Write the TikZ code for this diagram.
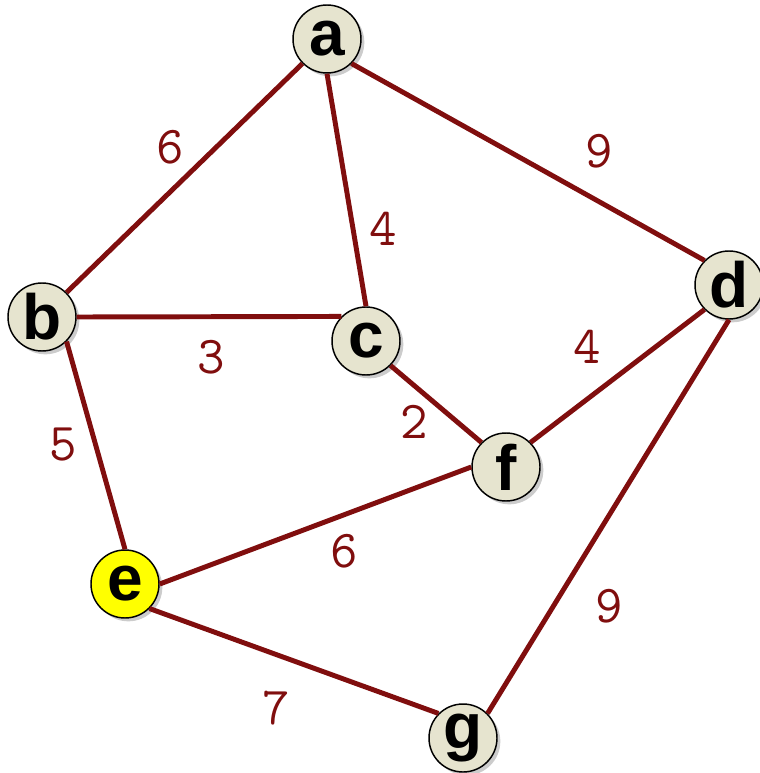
\documentclass[tikz,border=0pt]{standalone}
\usepackage{fontspec}
\usepackage{tikz}
\usetikzlibrary{shadows}
\newfontfamily\vtxfont{Liberation Sans}
\definecolor{edgered}{HTML}{800E0E}
\definecolor{vtxfill}{HTML}{E6E4CF}
\definecolor{vtxyellow}{HTML}{FFFF00}

\begin{document}
\begin{tikzpicture}[x=0.75pt, y=-0.75pt,
    vtx/.style={circle, draw=black, line width=1.1pt, fill=vtxfill,
        minimum size=51pt, inner sep=0pt,
        drop shadow={shadow xshift=2.5pt, shadow yshift=-2.5pt, opacity=0.4},
        font=\vtxfont\bfseries\fontsize{48}{48}\selectfont},
    wt/.style={text=edgered, font=\ttfamily\fontsize{40}{40}\selectfont},
    link/.style={draw=edgered, line width=3.7pt}]
    \useasboundingbox (0,0) rectangle (759,773);

    % --- vertices ---
    \node[vtx] (a) at (327,39) {a};
    \node[vtx] (b) at (42,317) {b};
    \node[vtx] (c) at (366,341) {c};
    \node[vtx] (d) at (729,285) {d};
    \node[vtx, fill=vtxyellow] (e) at (125,584) {e};
    \node[vtx] (f) at (506,467) {f};
    \node[vtx] (g) at (463,738) {g};

    % --- edges ---
    \draw[link] (a.south west) -- (b.north east);
    \draw[link] (a.south) -- (c.north);
    \draw[link] (a.south east) -- (d.north west);
    \draw[link] (b.east) -- (c.north west);
    \draw[link] (b.south east) -- (e.north);
    \draw[link] (c.south east) -- (f.north west);
    \draw[link] (d.south west) -- (f.north east);
    \draw[link] (d.south) -- (g.north east);
    \draw[link] (e.east) -- (f.west);
    \draw[link] (e.south east) -- (g.north west);

    % --- weights ---
    \node[wt] (wab) at (170,147) {6};
    \node[wt] (wac) at (383,229) {4};
    \node[wt] (wad) at (599,151) {9};
    \node[wt] (wbc) at (211,357) {3};
    \node[wt] (wbe) at (63,445) {5};
    \node[wt] (wcf) at (414,422) {2};
    \node[wt] (wdf) at (587,347) {4};
    \node[wt] (wdg) at (609,606) {9};
    \node[wt] (wef) at (344,551) {6};
    \node[wt] (weg) at (276,708) {7};
\end{tikzpicture}
\end{document}
